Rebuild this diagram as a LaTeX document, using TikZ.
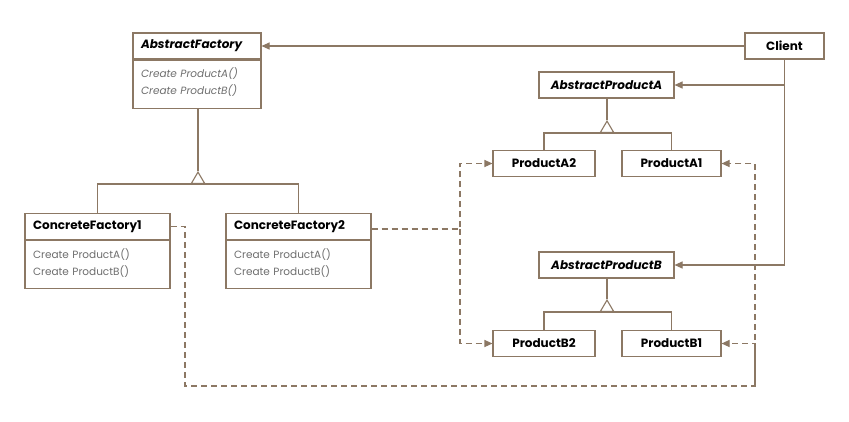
\documentclass[tikz,border=0pt]{standalone}
\usepackage{fontspec}
\setmainfont{Poppins}
\usetikzlibrary{arrows.meta, positioning}
\definecolor{taupe}{RGB}{140,120,100}
\definecolor{optext}{RGB}{110,110,110}
\tikzstyle{cls} = [rectangle, draw = taupe, line width = 1.1pt, fill = white,
  minimum height = 26, text centered, inner sep = 0,
  font = \fontsize{12}{14}\selectfont\bfseries]
\tikzstyle{head} = [cls, align = left, inner xsep = 8]
\tikzstyle{ops} = [
  rectangle, draw = taupe, line width = 1.1pt,
  minimum height = 48, anchor = north, align = left,
  inner xsep = 8, inner ysep = 0, text = optext,
  font = \fontsize{10.5}{17}\selectfont
]
\tikzstyle{gen} = [draw = taupe, line width = 1.1pt]
\tikzstyle{assoc} = [gen, -{Triangle[width = 7pt, length = 8pt]}]
\tikzstyle{dep} = [assoc, dash pattern = on 6pt off 4pt]
\tikzstyle{inh} = [gen, -{Triangle[open, width = 15pt, length = 13pt]}]

\begin{document}
\begin{tikzpicture}[x = 1pt, y = -1pt]
    \useasboundingbox [fill = white] (0, 0) rectangle (849, 421);
    % factories
    \node [head, text width = 112] (af) at (197, 46) {\itshape AbstractFactory};
    \node [ops, text width = 112] (af-ops) at (af.south)
      {\itshape Create ProductA()\\ \itshape Create ProductB()\\[-11pt]\mbox{}};
    \node [head, text width = 129] (cf-1) at (97.5, 226.5) {ConcreteFactory1};
    \node [ops, text width = 129] (cf-1-ops) at (cf-1.south)
      {Create ProductA()\\ Create ProductB()\\[-11pt]\mbox{}};
    \node [head, text width = 129] (cf-2) at (298.5, 226.5) {ConcreteFactory2};
    \node [ops, text width = 129] (cf-2-ops) at (cf-2.south)
      {Create ProductA()\\ Create ProductB()\\[-11pt]\mbox{}};
    % client and products
    \node [cls, minimum width = 79] (client) at (784.5, 46) {Client};
    \node [cls, minimum width = 135] (apa) at (606.5, 85) {\itshape AbstractProductA};
    \node [cls, minimum width = 102] (pa-2) at (544, 163.5) {ProductA2};
    \node [cls, minimum width = 99] (pa-1) at (671.5, 163.5) {ProductA1};
    \node [cls, minimum width = 135] (apb) at (606.5, 265) {\itshape AbstractProductB};
    \node [cls, minimum width = 102] (pb-2) at (544, 343.5) {ProductB2};
    \node [cls, minimum width = 99] (pb-1) at (671.5, 343.5) {ProductB1};
    % inheritance
    \coordinate (f-bar) at (198, 184);
    \coordinate (a-bar) at (607, 133);
    \coordinate (b-bar) at (607, 312);
    \draw [gen] (cf-1.north) |- (f-bar) -| (cf-2.north);
    \draw [gen] (pa-2.north) |- (a-bar) -| (pa-1.north);
    \draw [gen] (pb-2.north) |- (b-bar) -| (pb-1.north);
    \draw [inh] (f-bar) -- ++(0, -13) coordinate (f-apex);
    \draw [inh] (a-bar) -- ++(0, -13) coordinate (a-apex);
    \draw [inh] (b-bar) -- ++(0, -13) coordinate (b-apex);
    \draw [gen] (f-apex) -- (f-apex |- af-ops.south);
    \draw [gen] (a-apex) -- (a-apex |- apa.south);
    \draw [gen] (b-apex) -- (b-apex |- apb.south);
    % client uses
    \draw [assoc] (client) -- (af);
    \draw [assoc] (client.south) |- (apa.east);
    \draw [assoc] (client.south) |- (apb.east);
    % creates
    \coordinate (d-2) at (460, 229);
    \coordinate (d-1-corner) at (185, 386);
    \coordinate (d-1) at (755, 386);
    \draw [dep] (cf-2.east |- d-2) -- (d-2) |- (pa-2);
    \draw [dep] (d-2) |- (pb-2);
    \draw [dep] (cf-1.east) -| (d-1-corner) -- (d-1) |- (pa-1);
    \draw [dep] (d-1) |- (pb-1);
  \end{tikzpicture}
\end{document}
